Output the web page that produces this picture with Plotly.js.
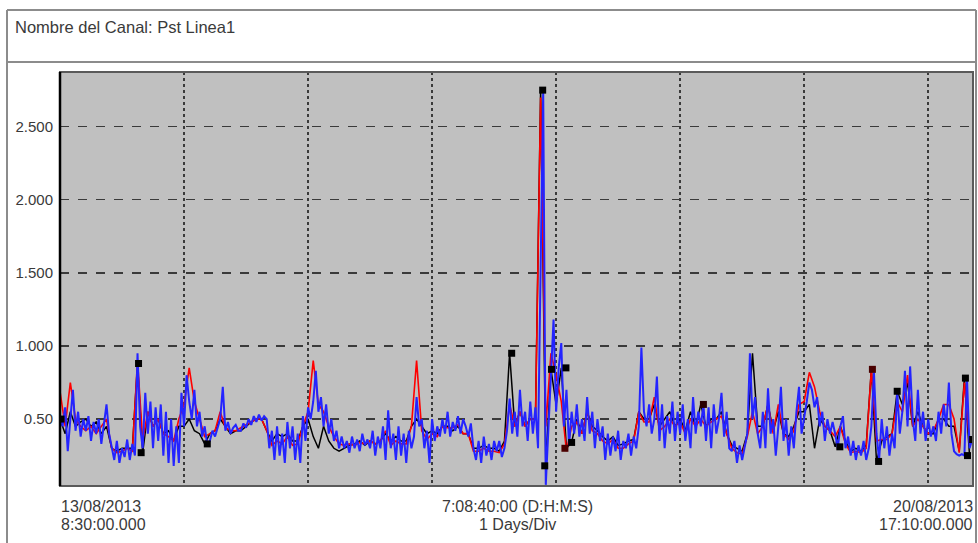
<!DOCTYPE html>
<html>
<head>
<meta charset="utf-8">
<script src="https://cdn.plot.ly/plotly-3.0.1.min.js"></script>
<style>
  html, body { margin: 0; padding: 0; background: #ffffff; }
  #chart { width: 978px; height: 543px; }
</style>
</head>
<body>
<div id="chart"></div>
<script>
// ---- Data (Pst, Linea1), 13/08/2013 08:30 -> 20/08/2013 17:10 ----
// Blue series, sampled every 30 min (hours from start = index * 0.5)
const bluePst = [
  0.52,0.45,0.58,0.28,0.50,0.70,0.42,0.55,0.38,0.50,
  0.42,0.52,0.35,0.48,0.40,0.50,0.33,0.45,0.60,0.40,
  0.30,0.22,0.35,0.20,0.30,0.24,0.36,0.22,0.33,0.25,
  0.95,0.45,0.30,0.68,0.40,0.62,0.30,0.58,0.35,0.60,
  0.25,0.55,0.20,0.50,0.18,0.45,0.20,0.68,0.45,0.80,
  0.62,0.50,0.70,0.45,0.55,0.38,0.45,0.32,0.35,0.42,
  0.38,0.45,0.50,0.72,0.42,0.48,0.40,0.44,0.46,0.42,
  0.42,0.47,0.44,0.50,0.46,0.52,0.48,0.53,0.49,0.52,
  0.50,0.30,0.42,0.22,0.45,0.25,0.40,0.20,0.48,0.30,
  0.45,0.22,0.40,0.20,0.52,0.35,0.58,0.50,0.62,0.83,
  0.55,0.65,0.45,0.60,0.40,0.50,0.35,0.42,0.30,0.38,
  0.30,0.35,0.27,0.38,0.30,0.36,0.28,0.40,0.32,0.36,
  0.30,0.42,0.25,0.38,0.30,0.45,0.22,0.56,0.30,0.40,
  0.22,0.45,0.25,0.40,0.20,0.42,0.30,0.38,0.65,0.45,
  0.50,0.30,0.42,0.20,0.50,0.35,0.45,0.38,0.50,0.40,
  0.55,0.38,0.48,0.42,0.52,0.40,0.50,0.45,0.38,0.47,
  0.30,0.22,0.35,0.20,0.38,0.25,0.33,0.22,0.35,0.28,
  0.35,0.24,0.30,0.42,0.64,0.40,0.55,0.38,0.70,0.45,
  0.55,0.35,0.62,0.40,0.58,0.30,1.60,2.75,0.05,0.45,
  0.80,1.18,0.55,0.85,1.02,0.45,0.70,0.32,0.55,0.40,
  0.60,0.38,0.50,0.35,0.65,0.40,0.55,0.30,0.50,0.35,
  0.45,0.22,0.40,0.25,0.38,0.28,0.42,0.22,0.35,0.30,
  0.40,0.25,0.38,0.30,0.45,0.99,0.55,0.45,0.60,0.40,
  0.50,0.79,0.35,0.60,0.30,0.52,0.40,0.62,0.35,0.55,
  0.40,0.60,0.35,0.50,0.30,0.65,0.40,0.55,0.45,0.60,
  0.35,0.58,0.30,0.60,0.40,0.50,0.68,0.38,0.55,0.30,
  0.28,0.35,0.20,0.32,0.22,0.30,0.40,0.95,0.50,0.65,
  0.40,0.30,0.55,0.30,0.71,0.40,0.50,0.25,0.45,0.72,
  0.35,0.50,0.25,0.45,0.30,0.55,0.72,0.40,0.50,0.62,
  0.75,0.70,0.58,0.65,0.45,0.55,0.35,0.50,0.40,0.48,
  0.40,0.30,0.45,0.52,0.30,0.38,0.25,0.35,0.22,0.32,
  0.25,0.35,0.22,0.30,0.45,0.82,0.40,0.22,0.50,0.30,
  0.45,0.25,0.40,0.30,0.69,0.40,0.55,0.83,0.45,0.86,
  0.50,0.35,0.70,0.40,0.55,0.35,0.50,0.38,0.45,0.35,
  0.55,0.40,0.60,0.45,0.75,0.40,0.28,0.26,0.25,0.26,
  0.25,0.78,0.30,0.36
];
// Red series, hourly (hours from start = index)
const redPst = [
  0.69,0.45,0.75,0.50,0.45,0.42,0.45,0.40,0.45,0.50,
  0.30,0.27,0.28,0.30,0.28,0.90,0.35,0.55,0.45,0.50,
  0.40,0.38,0.35,0.50,0.60,0.85,0.62,0.50,0.38,0.40,
  0.42,0.55,0.44,0.42,0.42,0.44,0.46,0.48,0.50,0.50,
  0.42,0.32,0.35,0.33,0.38,0.32,0.33,0.45,0.55,0.90,
  0.60,0.55,0.45,0.38,0.33,0.32,0.33,0.32,0.34,0.33,
  0.35,0.33,0.35,0.42,0.32,0.35,0.33,0.33,0.45,0.90,
  0.42,0.36,0.40,0.38,0.45,0.44,0.44,0.46,0.40,0.40,
  0.28,0.28,0.30,0.28,0.28,0.27,0.33,0.60,0.45,0.55,
  0.45,0.50,0.50,2.70,0.45,0.95,0.80,0.62,0.28,0.45,
  0.48,0.40,0.55,0.42,0.40,0.35,0.33,0.36,0.30,0.30,
  0.33,0.35,0.55,0.48,0.48,0.65,0.42,0.45,0.50,0.45,
  0.48,0.40,0.50,0.45,0.50,0.45,0.48,0.50,0.52,0.40,
  0.30,0.27,0.26,0.38,0.55,0.40,0.45,0.60,0.40,0.60,
  0.40,0.36,0.42,0.60,0.62,0.82,0.72,0.55,0.45,0.42,
  0.38,0.45,0.33,0.27,0.28,0.27,0.30,0.84,0.35,0.36,
  0.36,0.40,0.62,0.55,0.80,0.45,0.50,0.45,0.40,0.42,
  0.50,0.60,0.60,0.50,0.27,0.75,0.34
];
// Black series, hourly (hours from start = index)
const blackPst = [
  0.50,0.40,0.55,0.45,0.48,0.50,0.45,0.48,0.40,0.45,
  0.30,0.28,0.30,0.30,0.30,0.88,0.27,0.55,0.45,0.50,
  0.40,0.42,0.35,0.45,0.45,0.50,0.42,0.40,0.33,0.40,
  0.42,0.50,0.45,0.40,0.42,0.42,0.45,0.48,0.50,0.50,
  0.42,0.35,0.40,0.38,0.40,0.35,0.35,0.45,0.50,0.38,
  0.30,0.45,0.35,0.30,0.28,0.30,0.32,0.33,0.35,0.32,
  0.35,0.33,0.35,0.40,0.35,0.38,0.35,0.35,0.45,0.50,
  0.45,0.40,0.42,0.40,0.45,0.45,0.42,0.45,0.40,0.40,
  0.30,0.30,0.32,0.30,0.30,0.28,0.35,0.95,0.45,0.55,
  0.45,0.50,0.50,2.75,0.18,0.84,0.60,0.85,0.30,0.34,
  0.50,0.40,0.55,0.45,0.42,0.38,0.35,0.38,0.32,0.33,
  0.35,0.36,0.55,0.50,0.50,0.60,0.45,0.50,0.55,0.45,
  0.50,0.42,0.55,0.45,0.60,0.45,0.50,0.50,0.55,0.40,
  0.32,0.30,0.28,0.40,0.95,0.45,0.45,0.60,0.42,0.55,
  0.40,0.38,0.45,0.55,0.55,0.60,0.30,0.50,0.45,0.42,
  0.31,0.45,0.35,0.28,0.30,0.28,0.32,0.84,0.21,0.35,
  0.38,0.40,0.69,0.60,0.75,0.45,0.55,0.45,0.40,0.40,
  0.50,0.50,0.45,0.45,0.28,0.78,0.25
];
// Max/min event markers (black squares)
const markerHours  = [0.2, 15.2, 15.7, 28.5, 87.4, 93.4, 93.8, 95.1, 97.7, 97.9, 99.0, 124.5, 150.9, 157.2, 158.4, 162.0, 175.2, 175.6, 176.6];
const markerValues = [0.50, 0.88, 0.27, 0.33, 0.95, 2.75, 0.18, 0.84, 0.30, 0.85, 0.34, 0.60, 0.31, 0.84, 0.21, 0.69, 0.78, 0.25, 0.36];
const markerColors = ['#000','#000','#000','#000','#000','#000','#000','#000','#4a0000','#000','#000','#2a0000','#000','#4a0000','#000','#000','#000','#000','#000'];

const dayGrid   = [24, 48, 72, 96, 120, 144, 168];
const yTickVals = [0.5, 1.0, 1.5, 2.0, 2.5];
const yTickText = ['0.50', '1.000', '1.500', '2.000', '2.500'];

const titleText   = 'Nombre del Canal: Pst Linea1';
const startDate   = '13/08/2013', startTime = '8:30:00.000';
const spanText    = '7:08:40:00 (D:H:M:S)', divText = '1 Days/Div';
const endDate     = '20/08/2013', endTime   = '17:10:00.000';
const totalHours  = 176.667;

// ---- Build ----
const hoursHalf = bluePst.map((_, i) => i * 0.5);
const hoursRed  = redPst.map((_, i) => i);
const hoursBlk  = blackPst.map((_, i) => i);

const traces = [
  { x: hoursBlk, y: blackPst, type: 'scatter', mode: 'lines',
    line: { color: '#000000', width: 1.5 }, hoverinfo: 'skip' },
  { x: hoursRed, y: redPst, type: 'scatter', mode: 'lines',
    line: { color: '#ff0000', width: 1.6 }, hoverinfo: 'skip' },
  { x: hoursHalf, y: bluePst, type: 'scatter', mode: 'lines',
    line: { color: '#2424ff', width: 2.0 }, hoverinfo: 'skip' },
  { x: markerHours, y: markerValues, type: 'scatter', mode: 'markers',
    marker: { symbol: 'square', size: 7, color: markerColors }, hoverinfo: 'skip' }
];

// plot area pixel box: L=60 R=973 T=72 B=486
const L = 60, R = 973, T = 72, B = 486, W = R - L, H = B - T;
const px = v => (v - L) / W;
const py = v => (B - v) / H;

const fam = 'Liberation Sans, Arial, sans-serif';
const tickFont  = { family: fam, size: 15, color: '#3a3a3a' };
const titleFont = { family: fam, size: 16.5, color: '#3a3a3a' };
const axisFont  = { family: fam, size: 16, color: '#3a3a3a' };
const frameCol = '#8c8c8c';

const layout = {
  width: 978, height: 543,
  margin: { l: L, r: 978 - R, t: T, b: 543 - B, pad: 0 },
  paper_bgcolor: '#ffffff',
  plot_bgcolor: '#c0c0c0',
  showlegend: false,
  xaxis: {
    range: [0, totalHours], tickvals: dayGrid, showticklabels: false,
    ticks: '', showgrid: true, gridcolor: '#3a3a3a', gridwidth: 1.5, griddash: 'dot',
    zeroline: false, showline: false, fixedrange: true
  },
  yaxis: {
    range: [0.042, 2.874], tickvals: yTickVals, ticktext: yTickText,
    ticks: '', ticklabelstandoff: 6, tickfont: tickFont,
    showgrid: true, gridcolor: '#3a3a3a', gridwidth: 1.3, griddash: 'dash',
    zeroline: false, showline: false, fixedrange: true
  },
  shapes: [
    // outer frame
    { type: 'line', xref: 'paper', yref: 'paper', x0: px(7), x1: px(7), y0: py(10), y1: py(545), line: { color: frameCol, width: 2 } },
    { type: 'line', xref: 'paper', yref: 'paper', x0: px(7), x1: px(976), y0: py(10), y1: py(10), line: { color: frameCol, width: 2 } },
    { type: 'line', xref: 'paper', yref: 'paper', x0: px(976), x1: px(976), y0: py(10), y1: py(545), line: { color: frameCol, width: 2 } },
    { type: 'line', xref: 'paper', yref: 'paper', x0: px(7), x1: px(976), y0: py(62), y1: py(62), line: { color: frameCol, width: 2 } },
    // plot border
    { type: 'rect', xref: 'paper', yref: 'paper', x0: 0, x1: 1, y0: 0, y1: 1, line: { color: '#5a5a5a', width: 2 }, layer: 'above' },
    { type: 'line', xref: 'paper', yref: 'paper', x0: 0, x1: 0, y0: 0, y1: 1, line: { color: '#000000', width: 2.5 }, layer: 'above' }
  ],
  annotations: [
    { text: titleText, xref: 'paper', yref: 'paper', x: px(13), y: py(27), xanchor: 'left', yanchor: 'middle', showarrow: false, font: titleFont },
    { text: startDate, xref: 'paper', yref: 'paper', x: px(59), y: py(506), xanchor: 'left', yanchor: 'middle', showarrow: false, font: axisFont },
    { text: startTime, xref: 'paper', yref: 'paper', x: px(59), y: py(524), xanchor: 'left', yanchor: 'middle', showarrow: false, font: axisFont },
    { text: spanText, xref: 'paper', yref: 'paper', x: px(517), y: py(506), xanchor: 'center', yanchor: 'middle', showarrow: false, font: axisFont },
    { text: divText, xref: 'paper', yref: 'paper', x: px(517), y: py(524), xanchor: 'center', yanchor: 'middle', showarrow: false, font: axisFont },
    { text: endDate, xref: 'paper', yref: 'paper', x: px(975), y: py(506), xanchor: 'right', yanchor: 'middle', showarrow: false, font: axisFont },
    { text: endTime, xref: 'paper', yref: 'paper', x: px(975), y: py(524), xanchor: 'right', yanchor: 'middle', showarrow: false, font: axisFont }
  ]
};

Plotly.newPlot('chart', traces, layout, { staticPlot: true, displayModeBar: false });
</script>
</body>
</html>
